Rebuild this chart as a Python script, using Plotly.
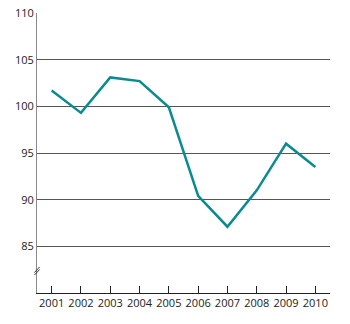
import plotly.graph_objects as go

years = [2001, 2002, 2003, 2004, 2005, 2006, 2007, 2008, 2009, 2010]
values = [101.7, 99.3, 103.1, 102.7, 99.9, 90.4, 87.1, 91.0, 96.0, 93.5]
y_ticks = [85, 90, 95, 100, 105, 110]

fig = go.Figure()
fig.add_trace(go.Scatter(x=years, y=values, mode="lines",
                         line=dict(color="#0b8a90", width=2.5),
                         hoverinfo="skip"))

fig.update_layout(
    width=350, height=324,
    margin=dict(l=37, r=20, t=13, b=31, autoexpand=False),
    paper_bgcolor="white", plot_bgcolor="white",
    showlegend=False,
    font=dict(family="Open Sans, sans-serif", size=11, color="#222"),
    xaxis=dict(range=[2000.5, 2010.5], tickvals=years, ticks="inside",
               ticklen=7, tickcolor="#222", tickwidth=1,
               showline=True, linecolor="#222", linewidth=1,
               showgrid=False, zeroline=False, fixedrange=True,
               automargin=False),
    yaxis=dict(range=[80, 110], tickvals=y_ticks, ticks="",
               showline=True, linecolor="#888", linewidth=1,
               showgrid=True, gridcolor="#555", gridwidth=1,
               zeroline=False, fixedrange=True, automargin=False),
)

# axis break marks
for dy in (0, 0.009):
    fig.add_shape(type="line", xref="paper", yref="paper",
                  x0=-0.009, x1=0.009, y0=0.064 + dy, y1=0.084 + dy,
                  line=dict(color="#333", width=1))

fig.write_html("out.html")
